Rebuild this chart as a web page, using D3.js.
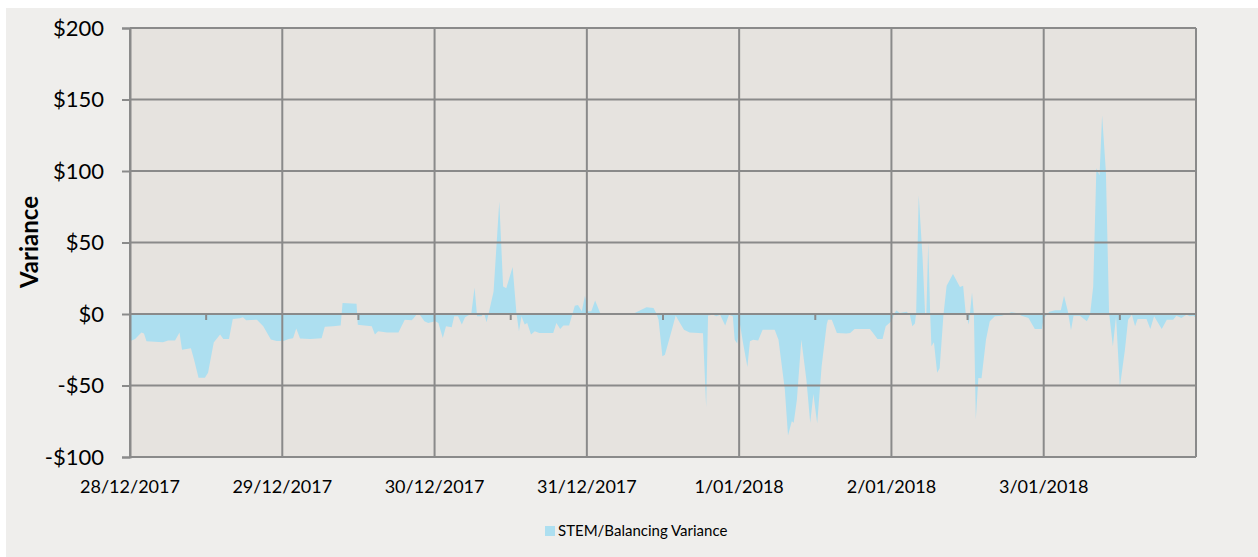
<!DOCTYPE html>
<html>
<head>
<meta charset="utf-8">
<script src="https://cdn.jsdelivr.net/npm/d3@7"></script>
<style>
  body { margin: 0; background: #ffffff; }
  svg { display: block; font-family: Lato, "Liberation Sans", sans-serif; }
</style>
</head>
<body>
<svg id="chart"></svg>
<script>
var width = 1258, height = 557;
var svg = d3.select("#chart").attr("width", width).attr("height", height);

// hours since 28/12/2017 00:00 and variance ($)
var hours = [0, 0.8, 1.8, 2.2, 2.6, 5.2, 6.0, 7.1, 7.8, 8.2, 9.6, 10.1, 10.8, 11.8, 12.3, 13.2, 14.2, 14.7, 15.6, 16.2,
  17.3, 17.8, 18.3, 20.0, 21.0, 22.2, 23.1, 24.2, 25.0, 25.7, 26.2, 26.8, 28.4, 30.2, 30.7, 32.0, 33.1, 33.2, 33.5, 35.7,
  35.9, 36.2, 38.1, 38.6, 39.1, 40.5, 42.3, 43.3, 44.4, 44.7, 45.1, 45.7, 46.4, 47.0, 48.1, 48.6, 49.3, 49.8, 50.7, 51.1,
  51.7, 52.3, 52.8, 53.5, 53.8, 54.3, 54.7, 55.4, 55.8, 56.2, 56.6, 57.3, 58.2, 58.8, 59.3, 60.3, 60.9, 61.3, 61.7, 62.2,
  62.6, 63.2, 63.8, 64.5, 66.7, 67.2, 67.8, 68.3, 69.2, 70.1, 70.6, 71.2, 71.7, 72.2, 72.7, 73.3, 74.1, 75.1, 77.0, 79.0,
  80.1, 81.4, 82.5, 83.0, 83.3, 83.9, 84.3, 85.4, 86.0, 86.3, 87.3, 88.2, 90.3, 90.8, 91.1, 91.9, 92.4, 93.0, 93.8, 94.4,
  95.0, 95.3, 95.7, 96.1, 96.6, 97.3, 97.7, 98.2, 99.0, 99.7, 101.6, 102.2, 103.2, 103.7, 104.3, 104.6, 105.1, 105.8, 106.6, 107.2,
  107.7, 108.3, 109.0, 109.8, 110.0, 110.6, 111.4, 112.9, 113.5, 114.2, 116.6, 117.1, 117.8, 118.6, 119.1, 120.0, 120.5, 120.8, 121.3, 122.4,
  122.9, 123.3, 123.7, 123.9, 124.3, 124.9, 125.3, 125.5, 125.8, 126.1, 126.3, 126.7, 127.2, 127.6, 128.2, 128.7, 129.7, 130.8, 131.3, 131.7,
  132.2, 132.7, 133.0, 133.3, 133.7, 134.2, 134.9, 135.5, 136.3, 137.4, 138.9, 139.7, 140.5, 141.6, 142.6, 143.7, 144.0, 144.9, 145.8, 146.7,
  147.2, 147.8, 148.3, 148.7, 149.7, 150.8, 151.3, 151.8, 152.3, 152.8, 153.2, 153.8, 154.3, 154.9, 155.4, 156.0, 156.8, 157.3, 157.9, 158.4,
  158.8, 160.2, 160.8, 161.4, 162.6, 163.4, 164.4, 164.9, 165.7, 166.5, 167.0, 167.6, 168.0];
var variance = [-19, -17.4, -13, -13.7, -19, -19.8, -18.6, -18.6, -13, -25, -24, -32, -44.6, -44.6, -41, -20, -14.4, -17.4, -17.4, -3.5,
  -3, -2.3, -4.4, -4, -8.6, -17.9, -18.8, -18.8, -17.4, -17, -10.2, -17.2, -17.4, -17, -9, -8.6, -8, -8, 7.7, 7.2,
  -7.5, -7.7, -8.6, -14.4, -12, -13, -13, -4, -4.4, -3, -0.7, -0.7, -5, -6.3, -5, -6.3, -16.7, -8.6, -9.3, -1.6,
  -1.6, -7.4, -2.3, -0.5, 0.7, 18.6, -1.6, -1.6, 0.7, -5.8, 1.9, 15.8, 78.6, 19.3, 18, 32.8, 0.7, -12, -1.6, -7.4,
  -6.3, -14.4, -12, -13.3, -13.3, -6.3, -10.5, -8, -8, 5.8, 6.3, 1.9, 12.8, 1.9, 1.9, 9.5, 0.7, 0, -0.5, -0.5,
  1.9, 4.7, 4.2, 0, -4, -29.5, -28.5, -11, -1, -3.5, -11, -13, -13.5, -65, -1, -0.5, -1.6, -0.5, -8, -0.5,
  -1.6, -18, -20.7, -6.3, -20, -37, -19, -18, -18.6, -11, -11, -18, -52.8, -85, -75, -76, -60, -18, -46, -76,
  -56, -76.5, -36.5, -7.4, -4, -4, -13.3, -13.7, -13.3, -10.5, -10.5, -13.3, -17.4, -17.4, -8.6, -5, 0.7, 2.5, 0.7, 1.6,
  -0.5, -8.6, -6.7, 0.7, 83, 40, 0.7, -0.5, 50, 0.7, -22.6, -19.8, -41, -38, -0.5, 19.8, 28, 18.8, 19.8, 0.7,
  -7.4, 15, -0.5, -73.7, -44.7, -45, -18, -5, -1.6, -1.2, 1.2, 0.7, -1.2, -2.8, -10.5, -10.5, -2.8, 1.6, 2.6, 2.6,
  12.8, 1.9, -11.4, -1.2, -1.2, -5, -0.5, 19.3, 102, 97, 139, 99.5, 0.7, -22.6, -1.6, -51, -25, -4, -0.5, -8.6,
  -3.5, -3.5, -10.5, -1.6, -10.5, -4, -4, -1.2, -2.8, -0.5, -1.6, -1.2, -2.8];

var yTicks = [-100, -50, 0, 50, 100, 150, 200];
var seriesName = "STEM/Balancing Variance";
var yTitle = "Variance";

var start = new Date(2017, 11, 28);
var end = new Date(2018, 0, 4);
var data = hours.map(function (h, i) {
  return { t: new Date(start.getTime() + h * 3600000), v: variance[i] };
});

var plotL = 130, plotR = 1196, plotT = 28, plotB = 457;

var x = d3.scaleTime().domain([start, end]).range([plotL, plotR]);
var y = d3.scaleLinear().domain([-100, 200]).range([plotB, plotT]);

// backgrounds
svg.append("rect").attr("x", 6).attr("y", 8).attr("width", width - 6).attr("height", height - 8).attr("fill", "#efeeec");
svg.append("rect").attr("x", plotL).attr("y", plotT).attr("width", plotR - plotL).attr("height", plotB - plotT).attr("fill", "#e6e3df");

// area
var area = d3.area()
  .x(function (d) { return x(d.t); })
  .y0(y(0))
  .y1(function (d) { return y(d.v); });

svg.append("path")
  .datum(data)
  .attr("fill", "#addff0")
  .attr("d", area);

// gridlines
var gridColor = "#8a8a8a";
svg.append("g").selectAll("line")
  .data(yTicks)
  .enter().append("line")
  .attr("x1", plotL).attr("x2", plotR)
  .attr("y1", function (d) { return y(d); }).attr("y2", function (d) { return y(d); })
  .attr("stroke", gridColor).attr("stroke-width", 2);

var days = d3.timeDay.range(start, d3.timeDay.offset(end, 1));
svg.append("g").selectAll("line")
  .data(days)
  .enter().append("line")
  .attr("x1", function (d) { return x(d); }).attr("x2", function (d) { return x(d); })
  .attr("y1", plotT).attr("y2", plotB)
  .attr("stroke", gridColor).attr("stroke-width", 2);

// y axis
var yAxis = d3.axisLeft(y).tickValues(yTicks).tickSize(8).tickPadding(18)
  .tickFormat(function (d) { return (d < 0 ? "-$" : "$") + Math.abs(d); });
var gy = svg.append("g").attr("transform", "translate(" + plotL + ",0)").call(yAxis);
gy.select(".domain").attr("stroke", gridColor).attr("stroke-width", 2);
gy.selectAll(".tick line").attr("stroke", gridColor).attr("stroke-width", 2);
gy.selectAll(".tick text").attr("font-size", 22).attr("fill", "#000").attr("font-family", "Lato, sans-serif");

// half day minor ticks on the zero line
var halfDays = d3.timeHour.every(12).range(start, end).filter(function (d) { return d.getHours() === 12; });
svg.append("g").selectAll("line")
  .data(halfDays)
  .enter().append("line")
  .attr("x1", function (d) { return x(d); }).attr("x2", function (d) { return x(d); })
  .attr("y1", y(0)).attr("y2", y(0) + 6)
  .attr("stroke", gridColor).attr("stroke-width", 2);

// x labels
var fmt = d3.timeFormat("%-d/%m/%Y");
svg.append("g").selectAll("text")
  .data(d3.timeDay.range(start, end))
  .enter().append("text")
  .attr("x", function (d) { return x(d); })
  .attr("y", 493)
  .attr("text-anchor", "middle")
  .attr("font-size", 18)
  .attr("fill", "#000")
  .text(function (d) { return fmt(d); });

// y title
svg.append("text")
  .attr("transform", "translate(38,242) rotate(-90)")
  .attr("text-anchor", "middle")
  .attr("font-size", 24)
  .attr("font-weight", "bold")
  .attr("fill", "#000")
  .text(yTitle);

// legend
svg.append("rect").attr("x", 545).attr("y", 526).attr("width", 10).attr("height", 10).attr("fill", "#addff0");
svg.append("text").attr("x", 558).attr("y", 536).attr("font-size", 15).attr("fill", "#000").text(seriesName);
</script>
</body>
</html>
